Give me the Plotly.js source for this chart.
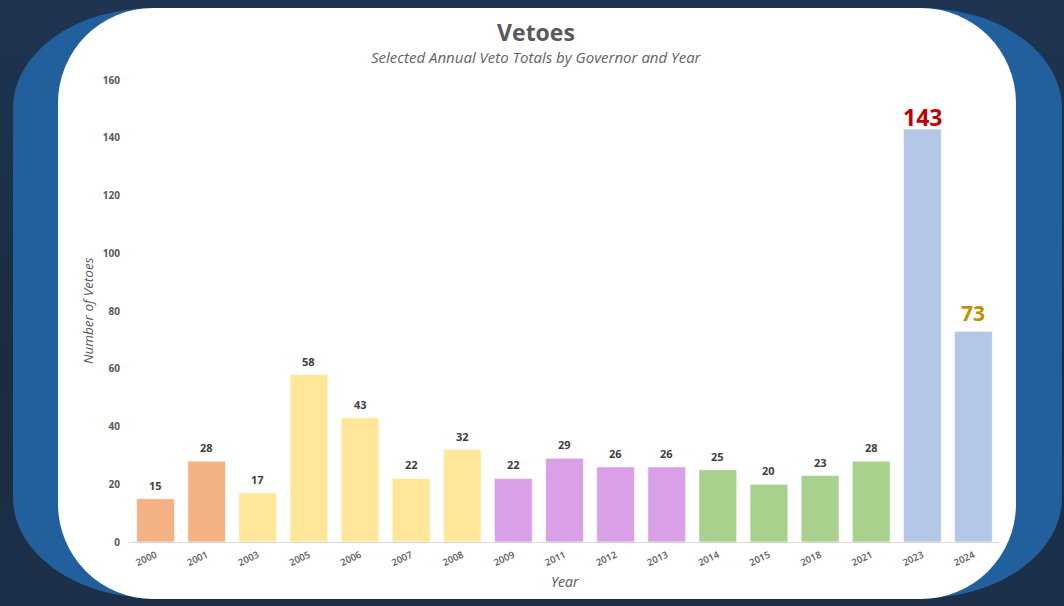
<!DOCTYPE html>
<html>
<head>
<meta charset="utf-8">
<script src="https://cdn.plot.ly/plotly-3.0.1.min.js"></script>
<style>
  html, body { margin:0; padding:0; width:1064px; height:606px; overflow:hidden; background:#1b2e45; }
  #bg { position:absolute; left:0; top:0; width:1064px; height:606px;
        background: linear-gradient(180deg, #1e3450 0%, #1a2c43 60%, #1c3049 100%); }
  #blue { position:absolute; left:13px; top:8px; width:1049px; height:590px;
          background:#21609c; border-radius:140px / 100px; }
  #white { position:absolute; left:58px; top:8px; width:958px; height:591px;
           background:#ffffff; border-radius:95px; }
  #chart { position:absolute; left:0; top:0; width:1064px; height:606px; }
</style>
</head>
<body>
<div id="bg"></div>
<div id="blue"></div>
<div id="white"></div>
<div id="chart"></div>
<script>
// ---- data ----
const years  = ["2000","2001","2003","2005","2006","2007","2008","2009","2011","2012","2013","2014","2015","2018","2021","2023","2024"];
const vetoes = [15, 28, 17, 58, 43, 22, 32, 22, 29, 26, 26, 25, 20, 23, 28, 143, 73];
const governorGroup = ["A","A","B","B","B","B","B","C","C","C","C","D","D","D","D","E","E"];
const groupColors = { A:"#f4b183", B:"#ffe699", C:"#d9a0e8", D:"#a9d18e", E:"#b4c7e7" };
// highlighted labels
const highlightYears  = ["2023", "2024"];
const highlightColors = ["#c00000", "#bf9000"];
const yTicks = [0,20,40,60,80,100,120,140,160];

const FONT = "Open Sans, Noto Sans, DejaVu Sans, sans-serif";

const trace = {
  type: "bar",
  x: years,
  y: vetoes,
  marker: { color: governorGroup.map(g => groupColors[g]), line: { color: "rgba(255,255,255,0.6)", width: 1 } },
  hoverinfo: "x+y"
};

// value labels drawn as annotations placed at (category index, value)
const labelAnnotations = years.map((yr, i) => {
  const k = highlightYears.indexOf(yr);
  const hl = k >= 0;
  return {
    text: String(vetoes[i]),
    x: i, y: vetoes[i], xref: "x", yref: "y",
    xanchor: "center", yanchor: "bottom", showarrow: false,
    yshift: hl ? (k === 0 ? -6 : 2) : 4,
    font: {
      family: FONT,
      size: hl ? (k === 0 ? 23 : 21) : 11,
      color: hl ? highlightColors[k] : "#404040",
      weight: "bold"
    }
  };
});

const layout = {
  width: 1064, height: 606, autosize: false,
  paper_bgcolor: "rgba(0,0,0,0)",
  plot_bgcolor: "rgba(0,0,0,0)",
  margin: { l: 130, r: 65, t: 80, b: 64 },
  bargap: 0.26,
  showlegend: false,
  font: { family: FONT, color: "#595959" },
  title: {
    text: "Vetoes",
    font: { family: FONT, size: 23, color: "#595959", weight: "bold" },
    xref: "container", yref: "container",
    x: 536/1064, y: 1 - 33/606, xanchor: "center", yanchor: "middle"
  },
  xaxis: {
    type: "category",
    categoryorder: "array", categoryarray: years,
    tickangle: -25,
    tickfont: { family: FONT, size: 9.5, color: "#595959", weight: 600 },
    showline: true, linecolor: "#d9d9d9", linewidth: 1,
    ticks: "", showgrid: false, zeroline: false,
    ticklabelstandoff: 3
  },
  yaxis: {
    range: [0, 160],
    tickvals: yTicks,
    tickfont: { family: FONT, size: 10, color: "#595959", weight: "bold" },
    showgrid: false, zeroline: false, showline: false, ticks: "",
    ticklabelstandoff: 9
  },
  annotations: [
    { text: "Selected Annual Veto Totals by Governor and Year",
      xref: "paper", yref: "paper", x: (536 - 130)/869, y: (542 - 57)/462,
      xanchor: "center", yanchor: "middle", showarrow: false,
      font: { family: FONT, size: 15, color: "#636363", style: "italic" } },
    { text: "Number of Vetoes",
      xref: "paper", yref: "paper", x: (88 - 130)/869, y: 0.5,
      xanchor: "center", yanchor: "middle", textangle: -90, showarrow: false,
      font: { family: FONT, size: 13.5, color: "#595959", style: "italic" } },
    { text: "Year",
      xref: "paper", yref: "paper", x: (565 - 130)/869, y: (542 - 581)/462,
      xanchor: "center", yanchor: "middle", showarrow: false,
      font: { family: FONT, size: 14, color: "#595959", style: "italic" } }
  ].concat(labelAnnotations)
};

Plotly.newPlot("chart", [trace], layout, { displayModeBar: false, staticPlot: true });
</script>
</body>
</html>
